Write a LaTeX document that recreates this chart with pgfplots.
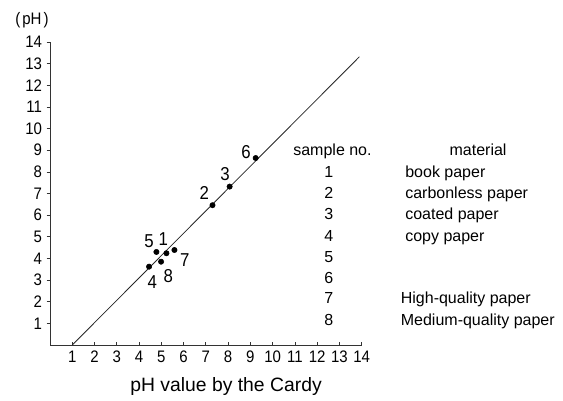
\documentclass[border=0pt]{standalone}
\usepackage{fontspec}
\setmainfont{Liberation Sans}
\newfontfamily\tickfont[FakeStretch=0.9]{Liberation Sans}
\usepackage{pgfplots}
\pgfplotsset{compat=1.18}
\begin{document}
\begin{tikzpicture}
\useasboundingbox (-37.5pt,-41.25pt) rectangle (384.75pt,258.75pt);
\begin{axis}[
  at={(0,0)}, anchor=origin,
  x=16.695pt, y=16.23pt,
  xmin=0, xmax=14, ymin=0, ymax=14,
  axis lines=left,
  axis line style={-, line width=0.6pt, black!80},
  xtick={1,...,14}, ytick={1,...,14},
  xtick align=inside, ytick align=outside,
  major tick length=2.5pt,
  tick style={black!80, line width=0.5pt},
  tick label style={font=\tickfont\fontsize{12.5}{13}\selectfont},
  xticklabel style={yshift=-1pt},
  /pgf/number format/assume math mode=true,
  clip=false,
]
\addplot[black!85, line width=0.6pt] coordinates {(1,0) (13.9,13.32)};
\addplot[only marks, mark=*, mark size=2pt, black] coordinates {
  (5.23,4.24) (7.30,6.46) (8.07,7.32) (4.45,3.62)
  (4.78,4.30) (9.24,8.64) (5.59,4.39) (4.99,3.85)
};
% point labels
\begin{scope}[every node/.style={inner sep=0pt, font=\tickfont\fontsize{14}{15}\selectfont}]
\node at (axis cs:5.09,4.89) {1};
\node at (axis cs:6.93,7.01) {2};
\node at (axis cs:7.86,7.89) {3};
\node at (axis cs:4.60,2.93) {4};
\node at (axis cs:4.45,4.82) {5};
\node at (axis cs:8.81,8.93) {6};
\node at (axis cs:6.06,3.93) {7};
\node at (axis cs:5.31,3.20) {8};
\end{scope}
% table
\begin{scope}[every node/.style={inner sep=0pt, font=\fontsize{12}{13}\selectfont}]
\node[anchor=base west] at (axis cs:10.92,8.75) {sample no.};
\node[anchor=base] at (axis cs:19.23,8.75) {material};
\node[anchor=base] at (axis cs:12.53,7.73) {1};
\node[anchor=base] at (axis cs:12.53,6.76) {2};
\node[anchor=base] at (axis cs:12.53,5.79) {3};
\node[anchor=base] at (axis cs:12.53,4.78) {4};
\node[anchor=base] at (axis cs:12.53,3.81) {5};
\node[anchor=base] at (axis cs:12.53,2.84) {6};
\node[anchor=base] at (axis cs:12.53,1.91) {7};
\node[anchor=base] at (axis cs:12.53,0.90) {8};
\node[anchor=base west] at (axis cs:15.95,7.73) {book paper};
\node[anchor=base west] at (axis cs:15.95,6.76) {carbonless paper};
\node[anchor=base west] at (axis cs:15.95,5.79) {coated paper};
\node[anchor=base west] at (axis cs:15.95,4.78) {copy paper};
\node[anchor=base west] at (axis cs:15.75,1.91) {High-quality paper};
\node[anchor=base west] at (axis cs:15.75,0.90) {Medium-quality paper};
\end{scope}
\node[anchor=base, inner sep=0pt, font=\fontsize{14.5}{16}\selectfont] at (axis cs:7.91,-2.17) {pH value by the Cardy};
\node[anchor=base, inner sep=0pt, font=\tickfont\fontsize{12.5}{13}\selectfont] at (axis cs:-0.81,14.79) {(\hspace{0.12em}pH\hspace{0.12em})};
\end{axis}
\end{tikzpicture}
\end{document}
